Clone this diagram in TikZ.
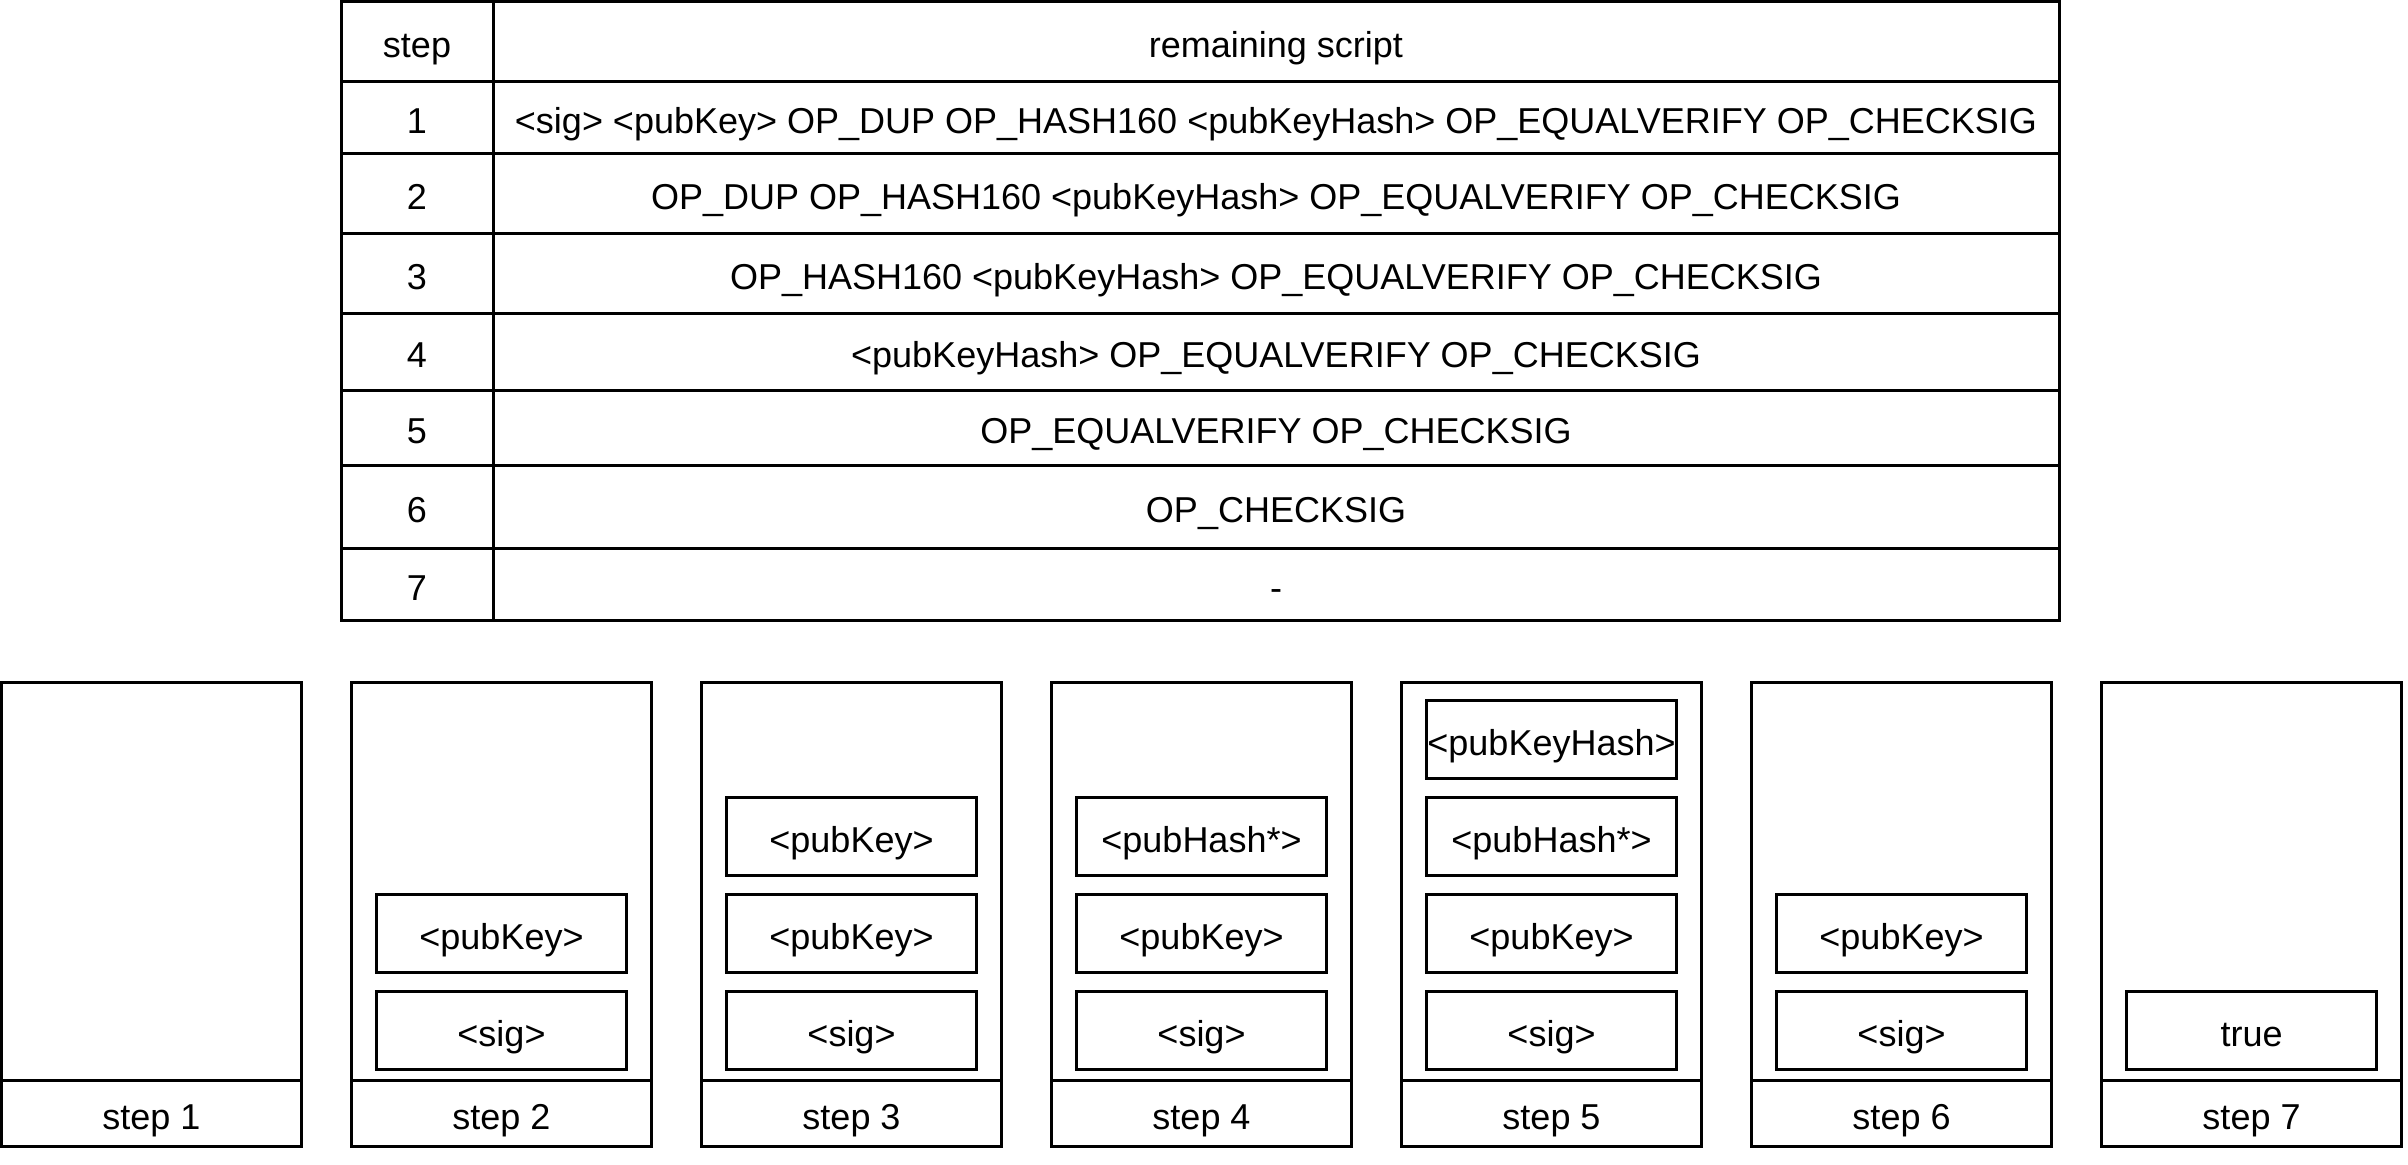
\documentclass[tikz,border=0pt]{standalone}
\usepackage{fontspec}
\setmainfont{Liberation Sans}
\usetikzlibrary{positioning}

\tikzset{
  boxed/.style={draw, line width=3pt, inner sep=0pt, outer sep=0pt,
    text height=40pt, text depth=8pt},
  cell/.style={boxed, anchor=north west},
  stackbox/.style={boxed, anchor=north west, minimum width=300pt, minimum height=398pt},
  steplabel/.style={boxed, anchor=north, minimum width=300pt, minimum height=66pt},
  slot/.style={boxed, anchor=south, minimum width=250pt, minimum height=78pt}
}

\begin{document}
\begin{tikzpicture}[x=1pt,y=-1pt,font=\fontsize{36pt}{43pt}\selectfont]

\useasboundingbox (0,0) rectangle (2408,1164);

% table of remaining script
\foreach \k/\top/\hgt/\txt in {
  0/2/79/remaining script,
  1/81/72/<sig> <pubKey> OP\_DUP OP\_HASH160 <pubKeyHash> OP\_EQUALVERIFY OP\_CHECKSIG,
  2/153/80/OP\_DUP OP\_HASH160 <pubKeyHash> OP\_EQUALVERIFY OP\_CHECKSIG,
  3/233/80/OP\_HASH160 <pubKeyHash> OP\_EQUALVERIFY OP\_CHECKSIG,
  4/313/77/<pubKeyHash> OP\_EQUALVERIFY OP\_CHECKSIG,
  5/390/75/OP\_EQUALVERIFY OP\_CHECKSIG,
  6/465/83/OP\_CHECKSIG,
  7/548/72/-}
{
  \node[cell, minimum width=152pt, minimum height=\hgt pt] (num\k) at (341,\top)
    {\ifnum\k=0 step\else\k\fi};
  \node[cell, minimum width=1566pt, minimum height=\hgt pt] (scr\k) at (num\k.north east) {\txt};
}

% stacks
\foreach \i in {1,...,7} {
  \node[stackbox] (box\i) at ({1.5+350*(\i-1)},682) {};
  \node[steplabel] (lab\i) at (box\i.south) {step \i};
}

\foreach \i/\items in {
  2/{<sig>,<pubKey>},
  3/{<sig>,<pubKey>,<pubKey>},
  4/{<sig>,<pubKey>,<pubHash*>},
  5/{<sig>,<pubKey>,<pubHash*>,<pubKeyHash>},
  6/{<sig>,<pubKey>},
  7/{true}}
{
  \foreach \t [count=\j] in \items
    \node[slot] (item\i-\j) at ([yshift={11+(\j-1)*97}] box\i.south) {\t};
}

\end{tikzpicture}
\end{document}
